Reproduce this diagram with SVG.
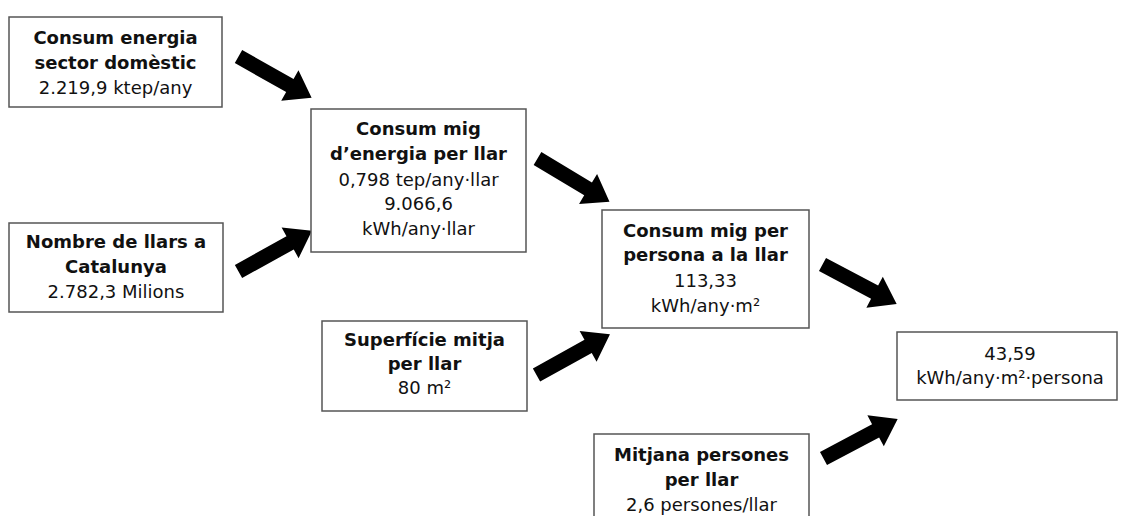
<svg xmlns="http://www.w3.org/2000/svg" width="1122" height="516" viewBox="0 0 1122 516">
<style>
.box{fill:#fff;stroke:#555;stroke-width:1.5}
text{font-family:"DejaVu Sans",Verdana,sans-serif;font-size:18px;fill:#111;text-anchor:middle}
.b{font-weight:bold}
.arr{fill:#000}
</style>
<defs>
<path id="arrow" d="M0,-7.5 L59,-7.5 L59,-17.5 L84,0 L59,17.5 L59,7.5 L0,7.5 Z"/>
</defs>
<rect width="1122" height="516" fill="#fff"/>
<g id="connectors" class="arr">
<use href="#arrow" transform="translate(238.5,56.5) rotate(29.5)"/>
<use href="#arrow" transform="translate(238.5,271.5) rotate(-29)"/>
<use href="#arrow" transform="translate(537.5,158.5) rotate(31)"/>
<use href="#arrow" transform="translate(536.5,375) rotate(-29)"/>
<use href="#arrow" transform="translate(822.5,264.5) rotate(28)"/>
<use href="#arrow" transform="translate(823.5,458.5) rotate(-28)"/>
</g>
<g id="n1">
<rect class="box" x="9" y="17" width="213" height="90"/>
<text x="115.5" y="44" class="b">Consum energia</text>
<text x="115.5" y="69" class="b">sector domèstic</text>
<text x="115.5" y="94">2.219,9 ktep/any</text>
</g>
<g id="n2">
<rect class="box" x="311" y="109" width="215" height="143"/>
<text x="418.5" y="135" class="b">Consum mig</text>
<text x="418.5" y="160" class="b">d’energia per llar</text>
<text x="418.5" y="186">0,798 tep/any·llar</text>
<text x="418.5" y="210">9.066,6</text>
<text x="418.5" y="235">kWh/any·llar</text>
</g>
<g id="n3">
<rect class="box" x="9" y="223" width="214" height="89"/>
<text x="116" y="248" class="b">Nombre de llars a</text>
<text x="116" y="273" class="b">Catalunya</text>
<text x="116" y="298">2.782,3 Milions</text>
</g>
<g id="n4">
<rect class="box" x="602" y="210" width="207" height="118"/>
<text x="705.5" y="237" class="b">Consum mig per</text>
<text x="705.5" y="261" class="b">persona a la llar</text>
<text x="705.5" y="287">113,33</text>
<text x="705.5" y="312">kWh/any·m²</text>
</g>
<g id="n5">
<rect class="box" x="322" y="321" width="205" height="90"/>
<text x="424.5" y="346" class="b">Superfície mitja</text>
<text x="424.5" y="370" class="b">per llar</text>
<text x="424.5" y="394">80 m²</text>
</g>
<g id="n6">
<rect class="box" x="897" y="332" width="220" height="68"/>
<text x="1010" y="360">43,59</text>
<text x="1010" y="384">kWh/any·m²·persona</text>
</g>
<g id="n7">
<rect class="box" x="594" y="434" width="215" height="100"/>
<text x="701.5" y="461" class="b">Mitjana persones</text>
<text x="701.5" y="486" class="b">per llar</text>
<text x="701.5" y="511">2,6 persones/llar</text>
</g>
</svg>
